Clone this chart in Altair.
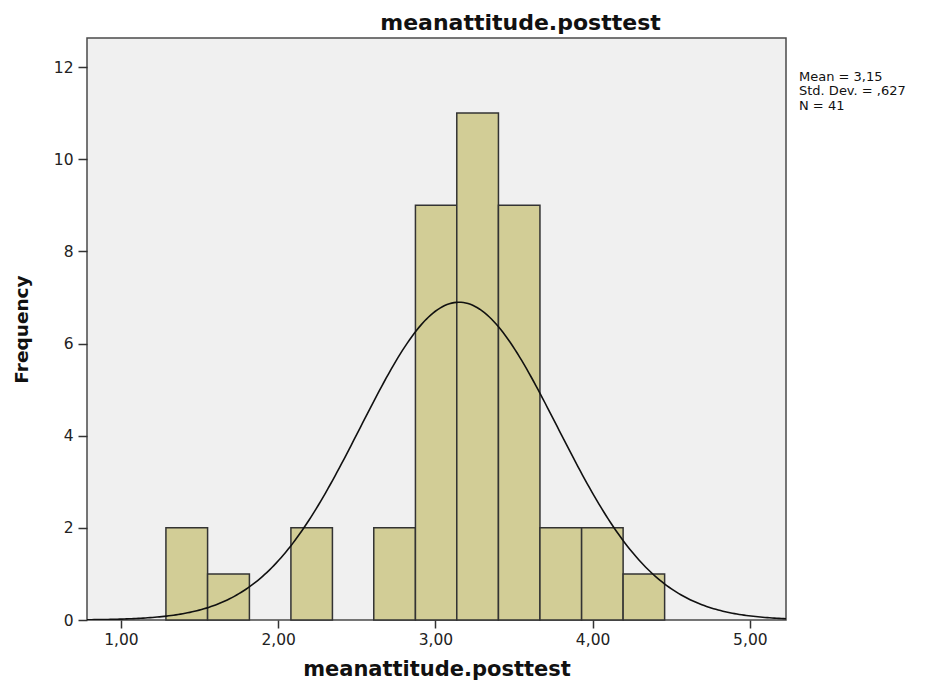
import altair as alt
import numpy as np
import pandas as pd

# --- data ---
bin_edges = [1.286, 1.551, 1.817, 2.081, 2.345, 2.608, 2.873, 3.136, 3.401, 3.665, 3.930, 4.194, 4.458]
counts = [2, 1, 0, 2, 0, 2, 9, 11, 9, 2, 2, 1]
stat_mean = 3.15
stat_sd = 0.627
stat_n = 41
stats_lines = ["Mean = 3,15", "Std. Dev. = ,627", "N = 41"]
x_ticks = [1, 2, 3, 4, 5]
y_ticks = [0, 2, 4, 6, 8, 10, 12]
x_domain = [0.784, 5.23]
y_domain = [0, 12.63]

bars = pd.DataFrame({
    "x0": bin_edges[:-1],
    "x1": bin_edges[1:],
    "count": counts,
})
bars = bars[bars["count"] > 0]

bw = (bin_edges[-1] - bin_edges[0]) / len(counts)
xs = np.linspace(x_domain[0], x_domain[1], 300)
curve = pd.DataFrame({
    "x": xs,
    "count": stat_n * bw * np.exp(-0.5 * ((xs - stat_mean) / stat_sd) ** 2) / (stat_sd * np.sqrt(2 * np.pi)),
})

stats = pd.DataFrame({"txt": ["\n".join(stats_lines)]})

xscale = alt.Scale(domain=x_domain, nice=False, zero=False)
yscale = alt.Scale(domain=y_domain, nice=False)

xaxis = alt.Axis(
    values=x_ticks, title="meanattitude.posttest",
    labelExpr="replace(format(datum.value, '.2f'), '.', ',')",
    grid=False, domain=False, tickSize=8, tickWidth=1.5, tickColor="#333",
    labelFont="DejaVu Sans", labelFontSize=15.5, labelColor="#222", labelPadding=4,
    titleFont="DejaVu Sans", titleFontSize=21, titleFontWeight="bold", titleColor="#111",
    titlePadding=11,
)
yaxis = alt.Axis(
    values=y_ticks, title="Frequency",
    grid=False, domain=False, tickSize=9, tickWidth=1.5, tickColor="#333",
    labelFont="DejaVu Sans", labelFontSize=15.5, labelColor="#222", labelPadding=5,
    titleFont="DejaVu Sans", titleFontSize=18.5, titleFontWeight="bold", titleColor="#111",
    titlePadding=22,
)

bar_layer = alt.Chart(bars).mark_rect(
    fill="#D2CD96", stroke="#333333", strokeWidth=1.5
).encode(
    x=alt.X("x0:Q", scale=xscale, axis=xaxis),
    x2="x1:Q",
    y=alt.Y("count:Q", scale=yscale, axis=yaxis),
    y2=alt.datum(0),
)

curve_layer = alt.Chart(curve).mark_line(
    color="#111111", strokeWidth=1.6, clip=True
).encode(
    x=alt.X("x:Q", scale=xscale),
    y=alt.Y("count:Q", scale=yscale),
)

stats_layer = alt.Chart(stats).mark_text(
    align="left", baseline="alphabetic", font="DejaVu Sans", fontSize=13,
    color="#111", lineBreak="\n", lineHeight=14.5,
).encode(
    x=alt.value(712),
    y=alt.value(42.5),
    text="txt:N",
)

chart = alt.layer(bar_layer, curve_layer, stats_layer).properties(
    width=699,
    height=582,
    background="white",
    title=alt.TitleParams(
        "meanattitude.posttest", font="DejaVu Sans", fontSize=22, fontWeight="bold",
        color="#111", anchor="middle", dx=84, offset=3,
    ),
    autosize=alt.AutoSizeParams(type="none"),
    padding={"left": 79, "top": 30, "right": 140, "bottom": 60},
).configure_view(
    fill="#F0F0F0", stroke="#4a4a4a", strokeWidth=1.5
)

chart.save("out.html", embed_options={"renderer": "svg", "actions": False})
